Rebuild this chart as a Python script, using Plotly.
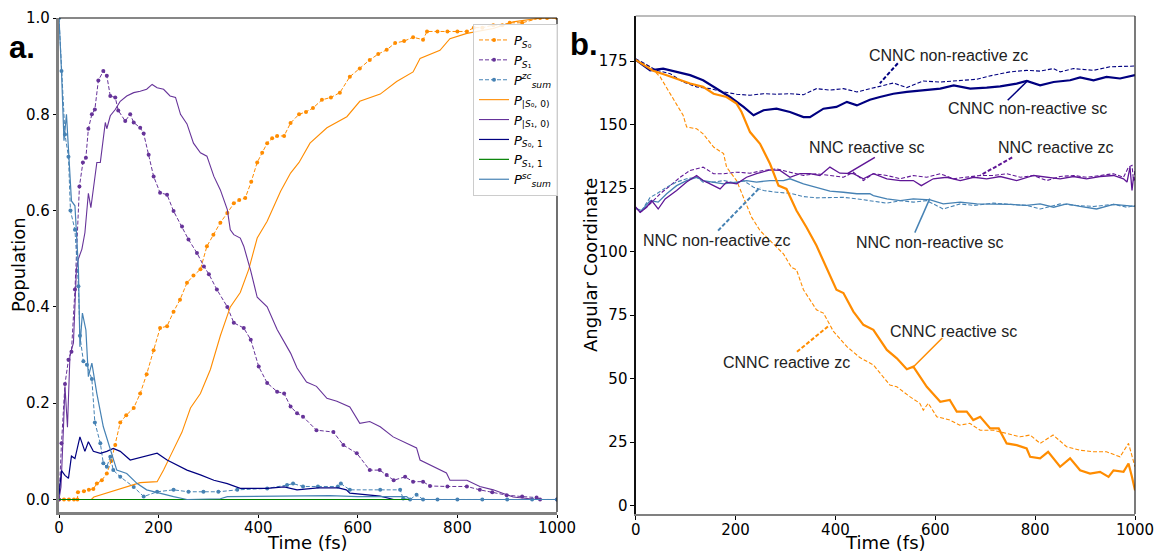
import plotly.graph_objects as go

# ---------------- Panel a: populations ----------------
t_s0 = [0, 10, 20, 30, 37, 38, 50, 60, 69, 76, 86, 96, 105, 113, 123, 135, 150, 163, 176, 190, 203, 217, 230, 243, 257, 270, 284, 297, 310, 324, 338, 351, 362, 374, 386, 398, 408, 418, 428, 438, 452, 465, 482, 496, 510, 528, 546, 564, 584, 604, 624, 641, 658, 675, 693, 711, 731, 739, 760, 780, 800, 819, 833, 850, 872, 890, 905, 930, 966, 980, 1000]
p_s0 = [0, 0, 0, 0, 0, 0.015, 0.017, 0.02, 0.022, 0.033, 0.04, 0.054, 0.08, 0.113, 0.16, 0.175, 0.19, 0.22, 0.26, 0.31, 0.356, 0.36, 0.39, 0.415, 0.45, 0.465, 0.478, 0.526, 0.55, 0.575, 0.595, 0.615, 0.622, 0.626, 0.66, 0.70, 0.72, 0.74, 0.75, 0.755, 0.755, 0.782, 0.8, 0.805, 0.813, 0.83, 0.835, 0.845, 0.878, 0.895, 0.913, 0.925, 0.934, 0.948, 0.952, 0.96, 0.955, 0.972, 0.972, 0.972, 0.972, 0.972, 0.98, 0.98, 0.985, 0.985, 0.99, 0.99, 1.0, 1.0, 1.0]

t_s1 = [0, 5, 12, 19, 25, 32, 41, 48, 54, 59, 66, 72, 79, 89, 96, 103, 113, 119, 133, 143, 150, 163, 170, 180, 190, 203, 217, 230, 247, 260, 277, 291, 301, 317, 338, 351, 371, 385, 401, 418, 438, 452, 465, 478, 490, 517, 551, 571, 598, 624, 644, 658, 672, 695, 711, 731, 745, 780, 819, 845, 870, 899, 930, 959, 966, 1000]
p_s1 = [0, 0.117, 0.24, 0.29, 0.307, 0.436, 0.65, 0.70, 0.71, 0.77, 0.80, 0.81, 0.87, 0.89, 0.88, 0.838, 0.835, 0.808, 0.786, 0.80, 0.783, 0.772, 0.76, 0.716, 0.671, 0.637, 0.633, 0.599, 0.567, 0.54, 0.512, 0.484, 0.468, 0.436, 0.40, 0.367, 0.356, 0.332, 0.276, 0.242, 0.224, 0.22, 0.193, 0.179, 0.172, 0.144, 0.14, 0.113, 0.096, 0.061, 0.061, 0.051, 0.04, 0.047, 0.037, 0.037, 0.028, 0.027, 0.027, 0.02, 0.015, 0.009, 0.006, 0.004, 0, 0]

t_zc = [0, 5, 12, 19, 23, 32, 39, 42, 49, 56, 66, 72, 83, 89, 96, 103, 109, 123, 150, 170, 197, 230, 260, 290, 320, 358, 418, 458, 470, 490, 520, 560, 566, 584, 645, 685, 691, 705, 718, 731, 760, 800, 850, 900, 950, 1000]
p_zc = [1.0, 0.89, 0.758, 0.712, 0.6, 0.56, 0.443, 0.34, 0.287, 0.28, 0.25, 0.16, 0.117, 0.075, 0.068, 0.089, 0.061, 0.047, 0.026, 0.006, 0.016, 0.02, 0.016, 0.016, 0.016, 0.02, 0.023, 0.03, 0.033, 0.027, 0.027, 0.027, 0.033, 0.02, 0.02, 0.02, 0.002, 0.0, 0.01, 0.0, 0, 0, 0, 0, 0, 0]

t_s00 = [0, 65, 70, 100, 136, 163, 197, 210, 223, 247, 264, 284, 304, 324, 344, 364, 381, 398, 418, 445, 465, 482, 504, 538, 578, 604, 645, 678, 711, 725, 765, 785, 819, 872, 912, 967, 1000]
p_s00 = [0, 0, 0.005, 0.015, 0.026, 0.035, 0.037, 0.061, 0.089, 0.14, 0.19, 0.22, 0.27, 0.34, 0.40, 0.43, 0.478, 0.543, 0.578, 0.64, 0.678, 0.70, 0.74, 0.772, 0.795, 0.827, 0.842, 0.868, 0.888, 0.916, 0.933, 0.957, 0.968, 0.978, 0.992, 1.0, 1.0]

t_s10 = [0, 4, 9, 12, 17, 22, 29, 35, 39, 46, 52, 59, 64, 69, 76, 83, 93, 96, 103, 113, 123, 136, 150, 163, 176, 187, 197, 210, 223, 234, 244, 257, 270, 284, 297, 311, 324, 338, 344, 351, 364, 371, 385, 398, 418, 438, 452, 465, 478, 497, 517, 538, 558, 584, 604, 624, 645, 671, 698, 718, 725, 751, 778, 785, 819, 845, 872, 899, 912, 959, 1000]
p_s10 = [0, 0.026, 0.15, 0.235, 0.15, 0.30, 0.325, 0.478, 0.50, 0.52, 0.554, 0.636, 0.606, 0.65, 0.70, 0.70, 0.783, 0.77, 0.797, 0.81, 0.827, 0.838, 0.845, 0.848, 0.852, 0.862, 0.855, 0.852, 0.838, 0.835, 0.80, 0.78, 0.74, 0.72, 0.713, 0.671, 0.643, 0.602, 0.56, 0.55, 0.543, 0.526, 0.475, 0.42, 0.40, 0.353, 0.328, 0.304, 0.273, 0.244, 0.235, 0.21, 0.204, 0.192, 0.158, 0.162, 0.151, 0.13, 0.117, 0.107, 0.082, 0.068, 0.055, 0.04, 0.04, 0.027, 0.02, 0.01, 0.005, 0, 0]

t_s01 = [0, 5, 12, 19, 25, 32, 42, 52, 59, 69, 83, 96, 109, 123, 143, 170, 197, 217, 237, 257, 284, 311, 338, 364, 418, 452, 478, 520, 561, 577, 584, 645, 672, 1000]
p_s01 = [0.01, 0.06, 0.05, 0.044, 0.09, 0.085, 0.13, 0.10, 0.12, 0.10, 0.096, 0.10, 0.106, 0.10, 0.082, 0.089, 0.096, 0.082, 0.072, 0.061, 0.051, 0.04, 0.033, 0.023, 0.023, 0.026, 0.02, 0.024, 0.024, 0.02, 0.013, 0.007, 0.0, 0.0]

t_s11 = [0, 1000]
p_s11 = [0, 0]

t_sc = [0, 5, 10, 15, 20, 25, 32, 39, 42, 47, 54, 59, 66, 76, 89, 103, 116, 136, 157, 176, 203, 230, 257, 324, 338, 458, 471, 544, 600, 698, 705, 1000]
p_sc = [1.0, 0.89, 0.745, 0.80, 0.71, 0.62, 0.61, 0.48, 0.317, 0.387, 0.352, 0.255, 0.283, 0.22, 0.151, 0.103, 0.061, 0.054, 0.033, 0.02, 0.0125, 0.006, 0.0, 0.0015, 0.006, 0.007, 0.008, 0.008, 0.006, 0.006, 0.0, 0.0]

legend_names = [
    "<i>P</i><sub><i>S</i>₀</sub>",
    "<i>P</i><sub><i>S</i>₁</sub>",
    "<i>P</i><sup><i>zc</i></sup><sub><i>sum</i></sub>",
    "<i>P</i><sub>|<i>S</i>₀, 0)</sub>",
    "<i>P</i><sub>|<i>S</i>₁, 0)</sub>",
    "<i>P</i><sub><i>S</i>₀, 1</sub>",
    "<i>P</i><sub><i>S</i>₁, 1</sub>",
    "<i>P</i><sup><i>sc</i></sup><sub><i>sum</i></sub>",
]

# ---------------- Panel b: angular coordinates ----------------
t_cr_sc = [0, 35, 62, 82, 109, 135, 156, 182, 202, 212, 229, 249, 269, 286, 302, 322, 342, 362, 382, 402, 416, 436, 456, 476, 503, 523, 543, 556, 583, 610, 629, 643, 663, 676, 690, 710, 727, 743, 763, 783, 790, 810, 826, 850, 870, 890, 910, 930, 947, 957, 977, 987, 994, 1000]
a_cr_sc = [175.5, 171.2, 169.5, 168.2, 166.2, 164.9, 162.2, 160.9, 158.3, 155, 147.1, 142.5, 134.6, 126, 124.7, 116.2, 109.6, 102.4, 93.5, 85, 83.7, 76.4, 71.2, 69.2, 61.3, 58, 53.7, 54.7, 46.8, 40.9, 41.6, 37, 37, 33.7, 35, 30.4, 30.4, 24.5, 23.8, 22.5, 19.2, 18.6, 21.2, 15.3, 18.6, 13.9, 12.6, 13.3, 11.3, 13.9, 13.3, 16.6, 11.3, 6]

t_cr_zc = [0, 29, 49, 69, 82, 95, 102, 122, 135, 156, 176, 182, 202, 216, 232, 249, 269, 296, 312, 322, 336, 362, 376, 396, 423, 449, 476, 496, 509, 523, 549, 569, 576, 586, 603, 629, 649, 669, 690, 716, 743, 770, 790, 810, 836, 863, 890, 917, 943, 970, 987, 994, 1000]
a_cr_zc = [175.5, 172.8, 168.8, 162.2, 158.3, 153.7, 149.1, 148.4, 146.4, 141.2, 138.6, 133.3, 128, 121.4, 113.6, 108.3, 104.3, 99.1, 93.8, 92.9, 85, 77.1, 75.8, 68.6, 62.6, 58.3, 55.4, 50.8, 47.5, 46.8, 42.9, 40.3, 37.6, 40.3, 35, 33.7, 31.7, 32.4, 29.7, 29.7, 28.4, 27.1, 27.8, 24.5, 27.8, 23.2, 21.8, 21.2, 21.2, 19.2, 24.5, 19.9, 15.3]

t_cn_sc = [0, 29, 55, 82, 109, 135, 162, 189, 216, 236, 256, 282, 309, 336, 349, 376, 402, 423, 443, 469, 489, 516, 543, 583, 610, 637, 670, 703, 730, 763, 783, 810, 837, 870, 890, 917, 943, 970, 1000]
a_cn_sc = [175.5, 171.4, 172.1, 170.8, 169.5, 167.5, 164.2, 160.9, 157, 153.7, 155.7, 156.3, 155, 153, 153, 156.3, 157, 159, 157.6, 159.8, 160.9, 162.2, 162.9, 163.6, 164.2, 165.5, 164.2, 164.6, 165.1, 166.2, 167.2, 165.5, 166.8, 167.5, 168.6, 167.5, 168.8, 168.2, 169.5]

t_cn_zc = [0, 42, 69, 95, 122, 149, 176, 202, 229, 256, 282, 309, 336, 362, 389, 416, 443, 469, 483, 516, 543, 576, 610, 650, 683, 716, 750, 783, 810, 837, 850, 877, 917, 950, 984, 1000]
a_cn_zc = [176, 171.4, 170.1, 166.8, 164.9, 164.2, 162.9, 162, 161.6, 162.2, 162, 162.2, 161.8, 164.2, 163.6, 164.2, 162.9, 164.2, 164.9, 166.4, 164.6, 167.2, 166.8, 167.5, 167.9, 169.5, 170.8, 171.4, 171.1, 172.1, 170.8, 172.1, 171.4, 172.8, 173.2, 173.1]

t_nr_sc = [0, 9, 22, 32, 45, 59, 82, 102, 122, 135, 149, 169, 182, 202, 222, 242, 269, 289, 309, 329, 349, 369, 389, 409, 436, 456, 476, 503, 530, 556, 572, 596, 623, 650, 677, 703, 730, 763, 797, 823, 850, 877, 903, 930, 957, 977, 984, 990, 994, 997, 1000]
a_nr_sc = [117.5, 115.5, 117.5, 120.1, 116.8, 120.8, 124.1, 127.4, 130, 128, 126.7, 124.7, 127.4, 126.7, 129.3, 130.7, 132.2, 132, 129.3, 130.7, 130.7, 130, 133.3, 130.9, 130.7, 128.7, 130.7, 128.7, 128, 128, 126, 128.7, 129.3, 128, 129.3, 128.7, 129.6, 128, 130, 129.3, 128.7, 129.6, 128.7, 129.6, 130, 128.7, 127.4, 133.3, 124.1, 129.3, 128]

t_nr_zc = [0, 9, 29, 49, 69, 89, 109, 135, 156, 176, 202, 229, 256, 282, 309, 336, 362, 389, 416, 436, 456, 476, 503, 530, 556, 583, 610, 636, 663, 690, 716, 743, 770, 797, 823, 850, 877, 903, 930, 957, 977, 987, 994, 997, 1000]
a_nr_zc = [117.5, 115.5, 118.8, 122.8, 126, 129.3, 132, 133.3, 130.7, 130.7, 131.3, 130.9, 132, 132.6, 131.3, 130, 130.7, 130, 129.3, 131.3, 128, 130.7, 130, 128.7, 130, 129.3, 130.7, 128.7, 129.3, 130, 130, 130.7, 129.3, 130, 128, 129.6, 130, 129.3, 130, 130.7, 129.3, 133.3, 134, 128, 132]

t_nn_sc = [0, 12, 29, 45, 62, 82, 102, 122, 135, 156, 176, 202, 222, 242, 269, 296, 309, 336, 362, 389, 416, 443, 469, 476, 503, 530, 556, 590, 616, 650, 683, 716, 750, 783, 810, 837, 863, 890, 923, 957, 984, 1000]
a_nn_sc = [117, 116.2, 120.1, 119.5, 122.8, 126, 128, 129.3, 128, 127.4, 126.7, 127.4, 128, 127.4, 128, 128, 128.7, 126.7, 125.4, 123.8, 123.4, 122.8, 122.8, 122.1, 120.8, 120.1, 120.8, 120.4, 118.8, 119.5, 118.8, 118.8, 118.6, 118.2, 118.8, 117.5, 118.8, 117.8, 116.8, 118.6, 118.2, 117.8]

t_nn_zc = [0, 12, 29, 42, 62, 82, 102, 122, 135, 156, 176, 202, 216, 236, 256, 282, 309, 336, 362, 389, 416, 443, 469, 476, 503, 530, 556, 583, 616, 650, 677, 716, 750, 783, 810, 850, 883, 917, 957, 984, 1000]
a_nn_zc = [117, 116.2, 121.4, 122.8, 125.4, 127.4, 128.7, 129.3, 127.4, 127.4, 128, 127, 128, 125.4, 124.1, 123.4, 123, 121.7, 121.2, 121.4, 121.4, 120.8, 120.1, 120.1, 119.1, 120.1, 119.5, 120.1, 116.8, 118.8, 118.2, 119.1, 118.6, 118.2, 116.8, 118.8, 118.2, 117.8, 118.6, 117.5, 118.2]

# Labels: text, text position (t, angle), leader line start, leader line end
label_text = ["CNNC non-reactive zc", "CNNC non-reactive sc", "NNC reactive sc", "NNC reactive zc",
              "NNC non-reactive sc", "NNC non-reactive zc", "CNNC reactive zc", "CNNC reactive sc"]
label_pos = [(626, 177.4), (784, 156.4), (464, 141.0), (842, 141.0),
             (590, 103.6), (163, 104.3), (303, 56.2), (636, 68.6)]
leader_from = [(525, 174.2), (745, 159.6), (479, 137.1), (754, 137.1),
               (559, 107.5), (165, 108.3), (323, 60.6), (614, 66.0)]
leader_to = [(489, 166.3), (786, 167.5), (425, 130.8), (690, 130.0),
             (589, 120.9), (249, 125.3), (385, 70.5), (554, 54.2)]

ORANGE = "#ff8c00"
PURPLE = "#663399"
PURPLE_B = "#5f1696"
NAVY = "#000080"
GREEN = "#008000"
STEEL = "#4682b4"
DASH = "4px,2px"

fig = go.Figure()

# panel a traces
fig.add_trace(go.Scatter(x=t_s0, y=p_s0, name=legend_names[0], mode="lines+markers",
                         line=dict(color=ORANGE, width=1, dash=DASH), marker=dict(size=4, color=ORANGE)))
fig.add_trace(go.Scatter(x=t_s1, y=p_s1, name=legend_names[1], mode="lines+markers",
                         line=dict(color=PURPLE, width=1, dash=DASH), marker=dict(size=4, color=PURPLE)))
fig.add_trace(go.Scatter(x=t_zc, y=p_zc, name=legend_names[2], mode="lines+markers",
                         line=dict(color=STEEL, width=1, dash=DASH), marker=dict(size=4, color=STEEL)))
fig.add_trace(go.Scatter(x=t_s00, y=p_s00, name=legend_names[3], mode="lines",
                         line=dict(color=ORANGE, width=1.1)))
fig.add_trace(go.Scatter(x=t_s10, y=p_s10, name=legend_names[4], mode="lines",
                         line=dict(color=PURPLE, width=1.1)))
fig.add_trace(go.Scatter(x=t_s01, y=p_s01, name=legend_names[5], mode="lines",
                         line=dict(color=NAVY, width=1.2)))
fig.add_trace(go.Scatter(x=t_s11, y=p_s11, name=legend_names[6], mode="lines",
                         line=dict(color=GREEN, width=1.2)))
fig.add_trace(go.Scatter(x=t_sc, y=p_sc, name=legend_names[7], mode="lines",
                         line=dict(color=STEEL, width=1.2)))

# panel b traces
right_series = [
    (t_cr_zc, a_cr_zc, ORANGE, 1.1, DASH),
    (t_cn_zc, a_cn_zc, NAVY, 1.1, DASH),
    (t_nr_zc, a_nr_zc, PURPLE_B, 1.1, DASH),
    (t_nn_zc, a_nn_zc, STEEL, 1.1, DASH),
    (t_nn_sc, a_nn_sc, STEEL, 1.3, "solid"),
    (t_nr_sc, a_nr_sc, PURPLE_B, 1.3, "solid"),
    (t_cn_sc, a_cn_sc, NAVY, 2.2, "solid"),
    (t_cr_sc, a_cr_sc, ORANGE, 2.2, "solid"),
]
for tx, ay, col, w, d in right_series:
    fig.add_trace(go.Scatter(x=tx, y=ay, mode="lines", showlegend=False, xaxis="x2", yaxis="y2",
                             line=dict(color=col, width=w, dash=d)))

label_colors = [NAVY, NAVY, PURPLE_B, PURPLE_B, STEEL, STEEL, ORANGE, ORANGE]
label_dash = [DASH, "solid", "solid", DASH, "solid", DASH, DASH, "solid"]

shapes = []
annotations = []
for txt, pos, p0, p1, col, d in zip(label_text, label_pos, leader_from, leader_to, label_colors, label_dash):
    shapes.append(dict(type="line", xref="x2", yref="y2", x0=p0[0], y0=p0[1], x1=p1[0], y1=p1[1],
                       line=dict(color=col, width=2 if d != "solid" else 1.5, dash=d)))
    annotations.append(dict(text=txt, x=pos[0], y=pos[1], xref="x2", yref="y2", showarrow=False,
                            font=dict(family="Liberation Sans, Arial", size=16, color="#222222"),
                            xanchor="center", yanchor="middle"))

# frame lines (top / right spines)
shapes += [
    dict(type="line", xref="x domain", yref="y domain", x0=0, x1=1, y0=1, y1=1, line=dict(color="#111111", width=1.2)),
    dict(type="line", xref="x domain", yref="y domain", x0=1, x1=1, y0=0, y1=1, line=dict(color="#111111", width=1.2)),
    dict(type="line", xref="x2 domain", yref="y2 domain", x0=0, x1=1, y0=1, y1=1, line=dict(color="#7a7a7a", width=1.2)),
    dict(type="line", xref="x2 domain", yref="y2 domain", x0=1, x1=1, y0=0, y1=1, line=dict(color="#222222", width=1.2)),
]

W, H = 1156, 552
def px(x):
    return x / W
def py(y):
    return 1 - y / H

title_font = dict(family="DejaVu Sans", size=18, color="#000000")
annotations += [
    dict(text="<b>a.</b>", x=px(7), y=py(47), xref="paper", yref="paper", showarrow=False,
         xanchor="left", yanchor="middle", font=dict(family="Liberation Sans, Arial", size=31, color="#000000")),
    dict(text="<b>b.</b>", x=px(568), y=py(44), xref="paper", yref="paper", showarrow=False,
         xanchor="left", yanchor="middle", font=dict(family="Liberation Sans, Arial", size=31, color="#000000")),
    dict(text="Population", x=px(18), y=py(265), xref="paper", yref="paper", showarrow=False,
         textangle=-90, xanchor="center", yanchor="middle", font=title_font),
    dict(text="Angular Coordinate", x=px(590), y=py(265), xref="paper", yref="paper", showarrow=False,
         textangle=-90, xanchor="center", yanchor="middle", font=title_font),
    dict(text="Time (fs)", x=px(308), y=py(542), xref="paper", yref="paper", showarrow=False,
         xanchor="center", yanchor="middle", font=title_font),
    dict(text="Time (fs)", x=px(885), y=py(542), xref="paper", yref="paper", showarrow=False,
         xanchor="center", yanchor="middle", font=title_font),
]

tick_font = dict(family="DejaVu Sans", size=15, color="#000000")
common_axis = dict(showgrid=False, zeroline=False, ticks="outside", ticklen=3.5, tickwidth=1,
                   tickcolor="#000000", tickfont=tick_font, automargin=False, showline=True)

fig.update_layout(
    width=W, height=H,
    margin=dict(l=0, r=0, t=0, b=0),
    paper_bgcolor="white", plot_bgcolor="white",
    xaxis=dict(domain=[px(59), px(557)], range=[0, 1000], tickvals=[0, 200, 400, 600, 800, 1000],
               linecolor="#808080", linewidth=2.5, anchor="y", ticklabelstandoff=-3, **common_axis),
    yaxis=dict(domain=[py(512), py(18)], range=[-0.026, 1.0], tickvals=[0, 0.2, 0.4, 0.6, 0.8, 1.0],
               tickformat=".1f", linecolor="#808080", linewidth=2.5, anchor="x", **common_axis),
    xaxis2=dict(domain=[px(635.7), px(1135)], range=[0, 1000], tickvals=[0, 200, 400, 600, 800, 1000],
                linecolor="#808080", linewidth=2, anchor="y2", ticklabelstandoff=-3, **common_axis),
    yaxis2=dict(domain=[py(514), py(16)], range=[-3.3, 192.8], tickvals=[0, 25, 50, 75, 100, 125, 150, 175],
                linecolor="#111111", linewidth=1.5, anchor="x2", **common_axis),
    legend=dict(x=px(473), y=py(24), xanchor="left", yanchor="top",
                bgcolor="rgba(255,255,255,0.85)", bordercolor="#cccccc", borderwidth=1,
                font=dict(family="DejaVu Sans", size=13, color="#000000"), itemwidth=30,
                tracegroupgap=0),
    shapes=shapes,
    annotations=annotations,
    showlegend=True,
)

fig.write_html("out.html", config={"displayModeBar": False},
               post_script="document.body.style.margin='0';document.body.style.overflow='hidden';")
